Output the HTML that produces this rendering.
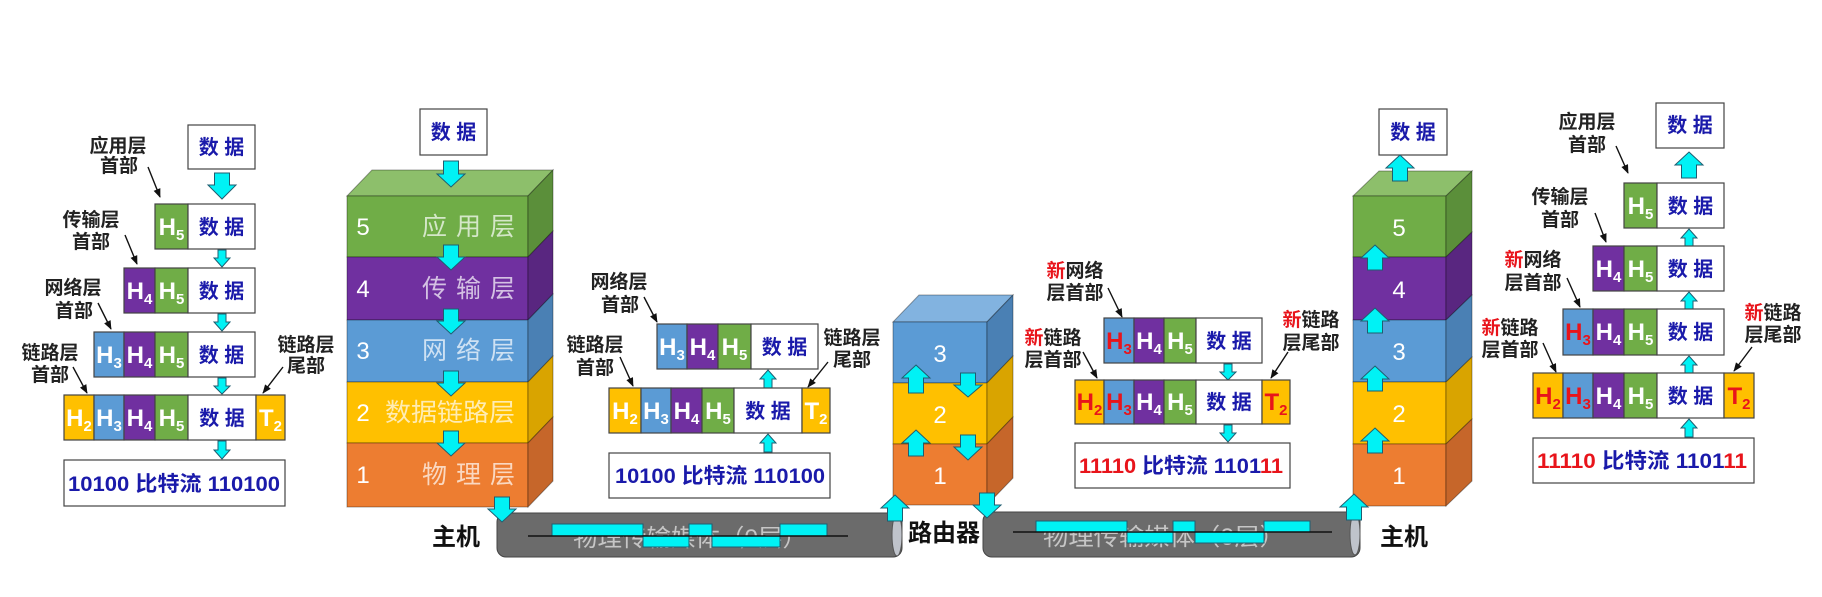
<!DOCTYPE html>
<html><head><meta charset="utf-8">
<style>
html,body{margin:0;padding:0;background:#fff;width:1822px;height:597px;overflow:hidden}
svg{display:block}
text{font-family:"Liberation Sans","Noto Sans CJK SC",sans-serif}
.lb{font-size:19px;font-weight:bold;fill:#222;text-anchor:middle}
.r{fill:#e8141b}
.h{font-size:24px;font-weight:bold;fill:#fff;text-anchor:middle}
.hr{font-size:24px;font-weight:bold;fill:#e8141b;text-anchor:middle}
.d{font-size:20px;font-weight:bold;fill:#1a1aaa;text-anchor:middle}
.bs{font-size:21px;font-weight:bold;fill:#1a1aaa}
.cell{stroke:#444;stroke-width:1.2}
.ca{fill:#00f2f5;stroke:#1f5d70;stroke-width:1}
.la{stroke:#111;stroke-width:1.4;fill:none}
.num{font-size:24px;fill:#fff;text-anchor:middle}
.lay{font-size:25px;fill:#fff;fill-opacity:0.7}
.edge{stroke:rgba(0,0,0,0.35);stroke-width:1}
.big{font-size:24px;font-weight:bold;fill:#111}
</style></head>
<body>
<svg width="1822" height="597" viewBox="0 0 1822 597" xmlns="http://www.w3.org/2000/svg">
<defs>
<marker id="ah" viewBox="0 0 10 10" refX="9" refY="5" markerWidth="10" markerHeight="9" orient="auto" markerUnits="userSpaceOnUse"><path d="M0,1 L10,5 L0,9 z" fill="#111"/></marker>
</defs>
<rect width="1822" height="597" fill="#fff"/>

<!-- ============ LEFT PACKETS ============ -->
<rect x="188" y="125" width="67" height="44" fill="#fff" class="cell"/>
<text x="221.5" y="154" class="d">数 据</text>
<polygon class="ca" points="214.5,173 229.5,173 229.5,185 236,185 222,199 208,185 214.5,185"/>
<!-- row1 -->
<rect x="155" y="204" width="33" height="45" fill="#70ad47" class="cell"/>
<rect x="188" y="204" width="67" height="45" fill="#fff" class="cell"/>
<text x="171.5" y="235" class="h">H<tspan font-size="15" dy="5">5</tspan></text>
<text x="221.5" y="234" class="d">数 据</text>
<polygon class="ca" points="218,250 226,250 226,258 230,258 222,267 214,258 218,258"/>
<!-- row2 -->
<rect x="124" y="268" width="31" height="45" fill="#7030a0" class="cell"/>
<rect x="155" y="268" width="33" height="45" fill="#70ad47" class="cell"/>
<rect x="188" y="268" width="67" height="45" fill="#fff" class="cell"/>
<text x="139.5" y="299" class="h">H<tspan font-size="15" dy="5">4</tspan></text>
<text x="171.5" y="299" class="h">H<tspan font-size="15" dy="5">5</tspan></text>
<text x="221.5" y="298" class="d">数 据</text>
<polygon class="ca" points="218,314 226,314 226,322 230,322 222,331 214,322 218,322"/>
<!-- row3 -->
<rect x="94" y="332" width="30" height="45" fill="#5b9bd5" class="cell"/>
<rect x="124" y="332" width="31" height="45" fill="#7030a0" class="cell"/>
<rect x="155" y="332" width="33" height="45" fill="#70ad47" class="cell"/>
<rect x="188" y="332" width="67" height="45" fill="#fff" class="cell"/>
<text x="109" y="363" class="h">H<tspan font-size="15" dy="5">3</tspan></text>
<text x="139.5" y="363" class="h">H<tspan font-size="15" dy="5">4</tspan></text>
<text x="171.5" y="363" class="h">H<tspan font-size="15" dy="5">5</tspan></text>
<text x="221.5" y="362" class="d">数 据</text>
<polygon class="ca" points="218,378 226,378 226,386 230,386 222,394 214,386 218,386"/>
<!-- row4 -->
<rect x="64" y="395" width="30" height="45" fill="#ffc000" class="cell"/>
<rect x="94" y="395" width="30" height="45" fill="#5b9bd5" class="cell"/>
<rect x="124" y="395" width="31" height="45" fill="#7030a0" class="cell"/>
<rect x="155" y="395" width="33" height="45" fill="#70ad47" class="cell"/>
<rect x="188" y="395" width="68" height="45" fill="#fff" class="cell"/>
<rect x="256" y="395" width="29" height="45" fill="#ffc000" class="cell"/>
<text x="79" y="426" class="h">H<tspan font-size="15" dy="5">2</tspan></text>
<text x="109" y="426" class="h">H<tspan font-size="15" dy="5">3</tspan></text>
<text x="139.5" y="426" class="h">H<tspan font-size="15" dy="5">4</tspan></text>
<text x="171.5" y="426" class="h">H<tspan font-size="15" dy="5">5</tspan></text>
<text x="222" y="425" class="d">数 据</text>
<text x="270.5" y="426" class="h">T<tspan font-size="15" dy="5">2</tspan></text>
<polygon class="ca" points="218,441 226,441 226,450 230,450 222,459 214,450 218,450"/>
<rect x="64" y="460" width="221" height="46" fill="#fff" class="cell"/>
<text x="68" y="491" class="bs" textLength="212" lengthAdjust="spacingAndGlyphs">10100 比特流 110100</text>
<!-- left labels -->
<text class="lb"><tspan x="118" y="152">应用层</tspan><tspan x="119" y="172">首部</tspan></text>
<line class="la" x1="148" y1="167" x2="160" y2="197" marker-end="url(#ah)"/>
<text class="lb"><tspan x="91" y="226">传输层</tspan><tspan x="91" y="248">首部</tspan></text>
<line class="la" x1="125" y1="235" x2="137" y2="264" marker-end="url(#ah)"/>
<text class="lb"><tspan x="73" y="294">网络层</tspan><tspan x="74" y="317">首部</tspan></text>
<line class="la" x1="98" y1="303" x2="111" y2="329" marker-end="url(#ah)"/>
<text class="lb"><tspan x="50" y="359">链路层</tspan><tspan x="50" y="381">首部</tspan></text>
<line class="la" x1="73" y1="367" x2="87" y2="393" marker-end="url(#ah)"/>
<text class="lb"><tspan x="306" y="351">链路层</tspan><tspan x="306" y="372">尾部</tspan></text>
<line class="la" x1="283" y1="367" x2="263" y2="393" marker-end="url(#ah)"/>

<!-- ============ CABLES ============ -->
<rect x="497" y="513" width="405" height="44" rx="9" fill="#6b6b6b" stroke="#444" stroke-width="1"/>
<ellipse cx="897" cy="535" rx="5" ry="21" fill="#bfc3cb" stroke="#555" stroke-width="1"/>
<text x="573" y="546" font-size="24" fill="#c6c6c6" textLength="234" lengthAdjust="spacingAndGlyphs">物理传输媒体（0层）</text>
<rect class="ca" x="552" y="524" width="91" height="12"/>
<rect class="ca" x="643" y="536" width="46" height="11"/>
<rect class="ca" x="689" y="524" width="23" height="12"/>
<rect class="ca" x="712" y="536" width="68" height="11"/>
<rect class="ca" x="780" y="524" width="47" height="12"/>
<line x1="528" y1="536" x2="848" y2="536" stroke="#111" stroke-width="1.5"/>

<rect x="983" y="512" width="377" height="45" rx="9" fill="#6b6b6b" stroke="#444" stroke-width="1"/>
<ellipse cx="1355" cy="534" rx="5" ry="21" fill="#bfc3cb" stroke="#555" stroke-width="1"/>
<text x="1043" y="545" font-size="24" fill="#c6c6c6" textLength="242" lengthAdjust="spacingAndGlyphs">物理传输媒体（0层）</text>
<rect class="ca" x="1036" y="521" width="91" height="11"/>
<rect class="ca" x="1127" y="532" width="46" height="11"/>
<rect class="ca" x="1173" y="521" width="22" height="11"/>
<rect class="ca" x="1195" y="532" width="69" height="11"/>
<rect class="ca" x="1264" y="521" width="46" height="11"/>
<line x1="1013" y1="532" x2="1332" y2="532" stroke="#111" stroke-width="1.5"/>

<!-- ============ LEFT STACK ============ -->
<rect x="420" y="109" width="67" height="46" fill="#fff" class="cell"/>
<text x="453.5" y="139" class="d">数 据</text>
<polygon class="edge" points="347,196 372,170 553,170 528,196" fill="#8dbf6b"/>
<rect class="edge" x="347" y="196" width="181" height="61" fill="#70ad47"/>
<polygon class="edge" points="528,196 553,170 553,231 528,257" fill="#5b8f3a"/>
<rect class="edge" x="347" y="257" width="181" height="63" fill="#7030a0"/>
<polygon class="edge" points="528,257 553,231 553,294 528,320" fill="#592680"/>
<rect class="edge" x="347" y="320" width="181" height="62" fill="#5b9bd5"/>
<polygon class="edge" points="528,320 553,294 553,356 528,382" fill="#4a80b4"/>
<rect class="edge" x="347" y="382" width="181" height="61" fill="#ffc000"/>
<polygon class="edge" points="528,382 553,356 553,417 528,443" fill="#d9a400"/>
<rect class="edge" x="347" y="443" width="181" height="64" fill="#ed7d31"/>
<polygon class="edge" points="528,443 553,417 553,481 528,507" fill="#c6662a"/>
<text x="363" y="235" class="num">5</text>
<text x="363" y="297" class="num">4</text>
<text x="363" y="359" class="num">3</text>
<text x="363" y="421" class="num">2</text>
<text x="363" y="483" class="num">1</text>
<text x="422" y="235" class="lay" textLength="93" lengthAdjust="spacing">应 用 层</text>
<text x="422" y="297" class="lay" textLength="93" lengthAdjust="spacing">传 输 层</text>
<text x="422" y="359" class="lay" textLength="93" lengthAdjust="spacing">网 络 层</text>
<text x="385" y="421" class="lay" textLength="130" lengthAdjust="spacingAndGlyphs">数据链路层</text>
<text x="422" y="483" class="lay" textLength="93" lengthAdjust="spacing">物 理 层</text>
<polygon class="ca" points="443.5,161 458.5,161 458.5,174 465,174 451,187 437,174 443.5,174"/>
<polygon class="ca" points="443.5,245 458.5,245 458.5,257 465,257 451,270 437,257 443.5,257"/>
<polygon class="ca" points="443.5,309 458.5,309 458.5,321 465,321 451,334 437,321 443.5,321"/>
<polygon class="ca" points="443.5,371 458.5,371 458.5,383 465,383 451,396 437,383 443.5,383"/>
<polygon class="ca" points="443.5,431 458.5,431 458.5,443 465,443 451,456 437,443 443.5,443"/>
<polygon class="ca" points="494.5,497 509.5,497 509.5,509 516,509 502,522 488,509 494.5,509"/>
<text x="432" y="545" class="big">主机</text>

<!-- ============ MIDDLE PACKETS ============ -->
<rect x="657" y="324" width="30" height="45" fill="#5b9bd5" class="cell"/>
<rect x="687" y="324" width="31" height="45" fill="#7030a0" class="cell"/>
<rect x="718" y="324" width="33" height="45" fill="#70ad47" class="cell"/>
<rect x="751" y="324" width="67" height="45" fill="#fff" class="cell"/>
<text x="672" y="355" class="h">H<tspan font-size="15" dy="5">3</tspan></text>
<text x="702.5" y="355" class="h">H<tspan font-size="15" dy="5">4</tspan></text>
<text x="734.5" y="355" class="h">H<tspan font-size="15" dy="5">5</tspan></text>
<text x="784.5" y="354" class="d">数 据</text>
<polygon class="ca" points="768,370 776,379 772,379 772,388 764,388 764,379 760,379"/>
<rect x="609" y="388" width="32" height="45" fill="#ffc000" class="cell"/>
<rect x="641" y="388" width="30" height="45" fill="#5b9bd5" class="cell"/>
<rect x="671" y="388" width="31" height="45" fill="#7030a0" class="cell"/>
<rect x="702" y="388" width="32" height="45" fill="#70ad47" class="cell"/>
<rect x="734" y="388" width="68" height="45" fill="#fff" class="cell"/>
<rect x="802" y="388" width="28" height="45" fill="#ffc000" class="cell"/>
<text x="625" y="419" class="h">H<tspan font-size="15" dy="5">2</tspan></text>
<text x="656" y="419" class="h">H<tspan font-size="15" dy="5">3</tspan></text>
<text x="686.5" y="419" class="h">H<tspan font-size="15" dy="5">4</tspan></text>
<text x="718" y="419" class="h">H<tspan font-size="15" dy="5">5</tspan></text>
<text x="768" y="418" class="d">数 据</text>
<text x="816" y="419" class="h">T<tspan font-size="15" dy="5">2</tspan></text>
<polygon class="ca" points="768,434 776,443 772,443 772,452 764,452 764,443 760,443"/>
<rect x="609" y="453" width="221" height="45" fill="#fff" class="cell"/>
<text x="615" y="483" class="bs" textLength="210" lengthAdjust="spacingAndGlyphs">10100 比特流 110100</text>
<text class="lb"><tspan x="619" y="288">网络层</tspan><tspan x="620" y="311">首部</tspan></text>
<line class="la" x1="644" y1="297" x2="657" y2="322" marker-end="url(#ah)"/>
<text class="lb"><tspan x="595" y="351">链路层</tspan><tspan x="595" y="374">首部</tspan></text>
<line class="la" x1="620" y1="357" x2="633" y2="386" marker-end="url(#ah)"/>
<text class="lb"><tspan x="852" y="344">链路层</tspan><tspan x="852" y="366">尾部</tspan></text>
<line class="la" x1="828" y1="362" x2="808" y2="387" marker-end="url(#ah)"/>

<!-- ============ ROUTER ============ -->
<polygon class="edge" points="893,322 919,295 1013,295 987,322" fill="#82b3e0"/>
<rect class="edge" x="893" y="322" width="94" height="61" fill="#5b9bd5"/>
<polygon class="edge" points="987,322 1013,295 1013,356 987,383" fill="#4a80b4"/>
<rect class="edge" x="893" y="383" width="94" height="61" fill="#ffc000"/>
<polygon class="edge" points="987,383 1013,356 1013,417 987,444" fill="#d9a400"/>
<rect class="edge" x="893" y="444" width="94" height="61" fill="#ed7d31"/>
<polygon class="edge" points="987,444 1013,417 1013,478 987,505" fill="#c6662a"/>
<text x="940" y="362" class="num" font-size="26">3</text>
<text x="940" y="423" class="num" font-size="26">2</text>
<text x="940" y="484" class="num" font-size="26">1</text>
<polygon class="ca" points="916,365 930,378 923.5,378 923.5,393 908.5,393 908.5,378 902,378"/>
<polygon class="ca" points="916,430 930,443 923.5,443 923.5,456 908.5,456 908.5,443 902,443"/>
<polygon class="ca" points="960.5,373 975.5,373 975.5,385 982,385 968,397 954,385 960.5,385"/>
<polygon class="ca" points="960.5,435 975.5,435 975.5,447 982,447 968,460 954,447 960.5,447"/>
<polygon class="ca" points="895,495 909,508 902.5,508 902.5,521 887.5,521 887.5,508 881,508"/>
<polygon class="ca" points="979.5,493 994.5,493 994.5,505 1001,505 987,518 973,505 979.5,505"/>
<text x="908" y="541" class="big" font-size="23">路由器</text>

<!-- ============ RIGHT-MIDDLE PACKETS ============ -->
<rect x="1104" y="318" width="30" height="45" fill="#5b9bd5" class="cell"/>
<rect x="1134" y="318" width="30" height="45" fill="#7030a0" class="cell"/>
<rect x="1164" y="318" width="32" height="45" fill="#70ad47" class="cell"/>
<rect x="1196" y="318" width="66" height="45" fill="#fff" class="cell"/>
<text x="1119" y="349" class="hr">H<tspan font-size="15" dy="5">3</tspan></text>
<text x="1149" y="349" class="h">H<tspan font-size="15" dy="5">4</tspan></text>
<text x="1180" y="349" class="h">H<tspan font-size="15" dy="5">5</tspan></text>
<text x="1229" y="348" class="d">数 据</text>
<polygon class="ca" points="1224,364 1232,364 1232,372 1236,372 1228,380 1220,372 1224,372"/>
<rect x="1075" y="380" width="29" height="44" fill="#ffc000" class="cell"/>
<rect x="1104" y="380" width="30" height="44" fill="#5b9bd5" class="cell"/>
<rect x="1134" y="380" width="30" height="44" fill="#7030a0" class="cell"/>
<rect x="1164" y="380" width="32" height="44" fill="#70ad47" class="cell"/>
<rect x="1196" y="380" width="66" height="44" fill="#fff" class="cell"/>
<rect x="1262" y="380" width="28" height="44" fill="#ffc000" class="cell"/>
<text x="1089.5" y="410" class="hr">H<tspan font-size="15" dy="5">2</tspan></text>
<text x="1119" y="410" class="hr">H<tspan font-size="15" dy="5">3</tspan></text>
<text x="1149" y="410" class="h">H<tspan font-size="15" dy="5">4</tspan></text>
<text x="1180" y="410" class="h">H<tspan font-size="15" dy="5">5</tspan></text>
<text x="1229" y="409" class="d">数 据</text>
<text x="1276" y="410" class="hr">T<tspan font-size="15" dy="5">2</tspan></text>
<polygon class="ca" points="1224,425 1232,425 1232,433 1236,433 1228,442 1220,433 1224,433"/>
<rect x="1075" y="443" width="215" height="45" fill="#fff" class="cell"/>
<text x="1079" y="473" class="bs" textLength="204" lengthAdjust="spacingAndGlyphs"><tspan fill="#e8141b">11110</tspan> 比特流 1101<tspan fill="#e8141b">11</tspan></text>
<text class="lb"><tspan x="1075" y="277"><tspan class="r">新</tspan>网络</tspan><tspan x="1075" y="299">层首部</tspan></text>
<line class="la" x1="1108" y1="288" x2="1122" y2="317" marker-end="url(#ah)"/>
<text class="lb"><tspan x="1053" y="344"><tspan class="r">新</tspan>链路</tspan><tspan x="1053" y="366">层首部</tspan></text>
<line class="la" x1="1083" y1="352" x2="1097" y2="378" marker-end="url(#ah)"/>
<text class="lb"><tspan x="1311" y="326"><tspan class="r">新</tspan>链路</tspan><tspan x="1311" y="349">层尾部</tspan></text>
<line class="la" x1="1288" y1="352" x2="1271" y2="378" marker-end="url(#ah)"/>

<!-- ============ RIGHT STACK ============ -->
<rect x="1379" y="109" width="68" height="46" fill="#fff" class="cell"/>
<text x="1413" y="139" class="d">数 据</text>
<polygon class="edge" points="1353,196 1379,171 1472,171 1446,196" fill="#8dbf6b"/>
<rect class="edge" x="1353" y="196" width="93" height="61" fill="#70ad47"/>
<polygon class="edge" points="1446,196 1472,171 1472,232 1446,257" fill="#5b8f3a"/>
<rect class="edge" x="1353" y="257" width="93" height="63" fill="#7030a0"/>
<polygon class="edge" points="1446,257 1472,232 1472,295 1446,320" fill="#592680"/>
<rect class="edge" x="1353" y="320" width="93" height="62" fill="#5b9bd5"/>
<polygon class="edge" points="1446,320 1472,295 1472,357 1446,382" fill="#4a80b4"/>
<rect class="edge" x="1353" y="382" width="93" height="62" fill="#ffc000"/>
<polygon class="edge" points="1446,382 1472,357 1472,419 1446,444" fill="#d9a400"/>
<rect class="edge" x="1353" y="444" width="93" height="62" fill="#ed7d31"/>
<polygon class="edge" points="1446,444 1472,419 1472,481 1446,506" fill="#c6662a"/>
<text x="1399" y="236" class="num" font-size="26">5</text>
<text x="1399" y="298" class="num" font-size="26">4</text>
<text x="1399" y="360" class="num" font-size="26">3</text>
<text x="1399" y="422" class="num" font-size="26">2</text>
<text x="1399" y="484" class="num" font-size="26">1</text>
<polygon class="ca" points="1400,155 1414,168 1407.5,168 1407.5,181 1392.5,181 1392.5,168 1386,168"/>
<polygon class="ca" points="1375,245 1389,258 1382.5,258 1382.5,270 1367.5,270 1367.5,258 1361,258"/>
<polygon class="ca" points="1375,308 1389,321 1382.5,321 1382.5,333 1367.5,333 1367.5,321 1361,321"/>
<polygon class="ca" points="1375,366 1389,379 1382.5,379 1382.5,391 1367.5,391 1367.5,379 1361,379"/>
<polygon class="ca" points="1375,428 1389,441 1382.5,441 1382.5,453 1367.5,453 1367.5,441 1361,441"/>
<polygon class="ca" points="1354,494 1368,507 1361.5,507 1361.5,520 1346.5,520 1346.5,507 1340,507"/>
<text x="1380" y="545" class="big">主机</text>

<!-- ============ RIGHT PACKETS ============ -->
<rect x="1656" y="103" width="68" height="45" fill="#fff" class="cell"/>
<text x="1690" y="132" class="d">数 据</text>
<polygon class="ca" points="1689,152 1703,165 1696.5,165 1696.5,178 1681.5,178 1681.5,165 1675,165"/>
<rect x="1624" y="183" width="33" height="45" fill="#70ad47" class="cell"/>
<rect x="1657" y="183" width="67" height="45" fill="#fff" class="cell"/>
<text x="1640.5" y="214" class="h">H<tspan font-size="15" dy="5">5</tspan></text>
<text x="1690.5" y="213" class="d">数 据</text>
<polygon class="ca" points="1689,229 1697,238 1693,238 1693,246 1685,246 1685,238 1681,238"/>
<rect x="1593" y="246" width="31" height="45" fill="#7030a0" class="cell"/>
<rect x="1624" y="246" width="33" height="45" fill="#70ad47" class="cell"/>
<rect x="1657" y="246" width="67" height="45" fill="#fff" class="cell"/>
<text x="1608.5" y="277" class="h">H<tspan font-size="15" dy="5">4</tspan></text>
<text x="1640.5" y="277" class="h">H<tspan font-size="15" dy="5">5</tspan></text>
<text x="1690.5" y="276" class="d">数 据</text>
<polygon class="ca" points="1689,292 1697,301 1693,301 1693,309 1685,309 1685,301 1681,301"/>
<rect x="1563" y="309" width="30" height="46" fill="#5b9bd5" class="cell"/>
<rect x="1593" y="309" width="31" height="46" fill="#7030a0" class="cell"/>
<rect x="1624" y="309" width="33" height="46" fill="#70ad47" class="cell"/>
<rect x="1657" y="309" width="67" height="46" fill="#fff" class="cell"/>
<text x="1578" y="340" class="hr">H<tspan font-size="15" dy="5">3</tspan></text>
<text x="1608.5" y="340" class="h">H<tspan font-size="15" dy="5">4</tspan></text>
<text x="1640.5" y="340" class="h">H<tspan font-size="15" dy="5">5</tspan></text>
<text x="1690.5" y="339" class="d">数 据</text>
<polygon class="ca" points="1689,356 1697,365 1693,365 1693,373 1685,373 1685,365 1681,365"/>
<rect x="1533" y="373" width="30" height="45" fill="#ffc000" class="cell"/>
<rect x="1563" y="373" width="30" height="45" fill="#5b9bd5" class="cell"/>
<rect x="1593" y="373" width="31" height="45" fill="#7030a0" class="cell"/>
<rect x="1624" y="373" width="33" height="45" fill="#70ad47" class="cell"/>
<rect x="1657" y="373" width="67" height="45" fill="#fff" class="cell"/>
<rect x="1724" y="373" width="30" height="45" fill="#ffc000" class="cell"/>
<text x="1548" y="404" class="hr">H<tspan font-size="15" dy="5">2</tspan></text>
<text x="1578" y="404" class="hr">H<tspan font-size="15" dy="5">3</tspan></text>
<text x="1608.5" y="404" class="h">H<tspan font-size="15" dy="5">4</tspan></text>
<text x="1640.5" y="404" class="h">H<tspan font-size="15" dy="5">5</tspan></text>
<text x="1690.5" y="403" class="d">数 据</text>
<text x="1739" y="404" class="hr">T<tspan font-size="15" dy="5">2</tspan></text>
<polygon class="ca" points="1689,419 1697,428 1693,428 1693,437 1685,437 1685,428 1681,428"/>
<rect x="1533" y="438" width="221" height="45" fill="#fff" class="cell"/>
<text x="1537" y="468" class="bs" textLength="210" lengthAdjust="spacingAndGlyphs"><tspan fill="#e8141b">11110</tspan> 比特流 1101<tspan fill="#e8141b">11</tspan></text>
<text class="lb"><tspan x="1587" y="128">应用层</tspan><tspan x="1587" y="151">首部</tspan></text>
<line class="la" x1="1616" y1="146" x2="1628" y2="173" marker-end="url(#ah)"/>
<text class="lb"><tspan x="1560" y="203">传输层</tspan><tspan x="1560" y="226">首部</tspan></text>
<line class="la" x1="1595" y1="213" x2="1606" y2="242" marker-end="url(#ah)"/>
<text class="lb"><tspan x="1533" y="266"><tspan class="r">新</tspan>网络</tspan><tspan x="1533" y="289">层首部</tspan></text>
<line class="la" x1="1567" y1="278" x2="1580" y2="307" marker-end="url(#ah)"/>
<text class="lb"><tspan x="1510" y="334"><tspan class="r">新</tspan>链路</tspan><tspan x="1510" y="356">层首部</tspan></text>
<line class="la" x1="1543" y1="343" x2="1556" y2="372" marker-end="url(#ah)"/>
<text class="lb"><tspan x="1773" y="319"><tspan class="r">新</tspan>链路</tspan><tspan x="1773" y="341">层尾部</tspan></text>
<line class="la" x1="1752" y1="347" x2="1734" y2="371" marker-end="url(#ah)"/>
</svg>
</body></html>
